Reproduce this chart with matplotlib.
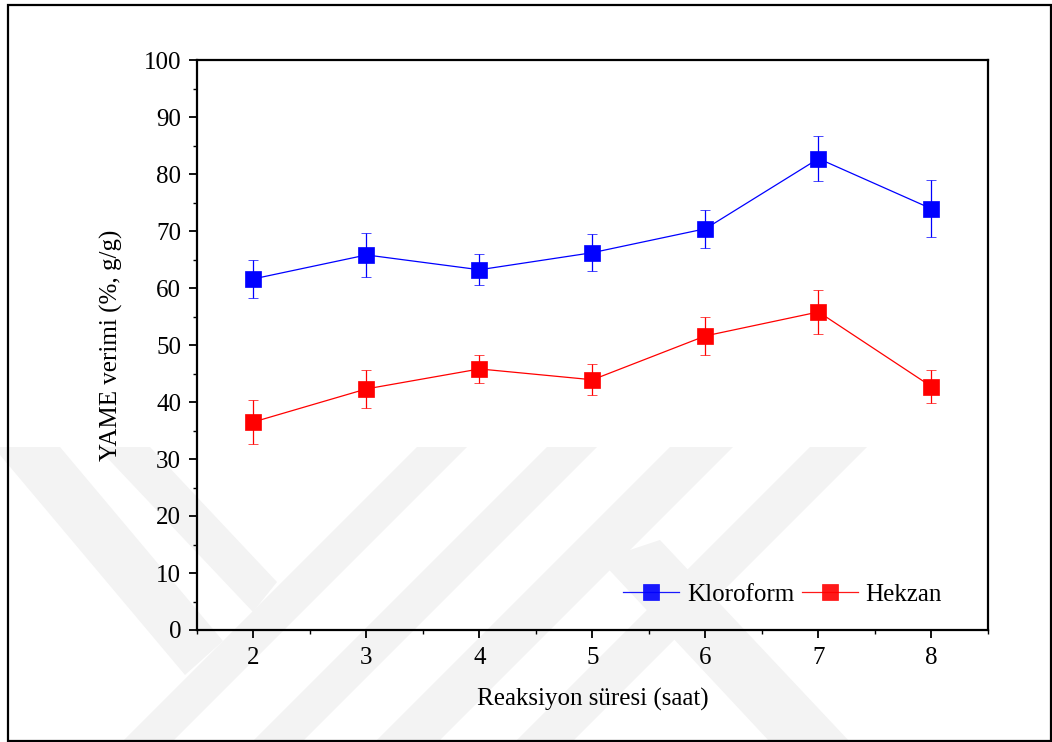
import numpy as np
import matplotlib
matplotlib.use("Agg")
import matplotlib.pyplot as plt
from matplotlib import font_manager
from matplotlib.lines import Line2D
from matplotlib.patches import Polygon, Rectangle
from matplotlib.ticker import MultipleLocator

# find a Times-like serif file and register it
serif_name = "DejaVu Serif"
for path in font_manager.findSystemFonts():
    name = path.split("/")[-1]
    if name.startswith("LiberationSerif-Regular") or name.startswith("Times"):
        font_manager.fontManager.addfont(path)
        serif_name = font_manager.FontProperties(fname=path).get_name()
        break
plt.rcParams["font.family"] = [serif_name, "DejaVu Serif"]

# ========================================
# data
# ========================================
saat = [2, 3, 4, 5, 6, 7, 8]
kloroform = [61.6, 65.8, 63.2, 66.2, 70.4, 82.7, 73.9]
kloroform_err = [3.3, 3.8, 2.7, 3.3, 3.3, 3.9, 5.0]
hekzan = [36.5, 42.3, 45.8, 43.9, 51.6, 55.8, 42.7]
hekzan_err = [3.9, 3.4, 2.5, 2.75, 3.3, 3.9, 2.85]

W, H = 1052, 742
fs = 18
fig = plt.figure(figsize=(W / 100, H / 100), dpi=100)
fig.patch.set_facecolor("white")


def px(pts):
    # pixel coords (y down) -> figure fraction
    return [(x / W, 1 - y / H) for x, y in pts]


# faint watermark in the background
bands = [
    [(417, 447), (467, 447), (172, 742), (122, 742)],
    [(547, 447), (597, 447), (302, 742), (252, 742)],
    [(670, 447), (733, 447), (438, 742), (375, 742)],
    [(810, 447), (867, 447), (572, 742), (515, 742)],
    [(0, 447), (60, 447), (223, 641), (185, 675), (0, 455)],
    [(97, 447), (150, 447), (277, 582), (253, 612)],
    [(600, 560), (660, 540), (850, 742), (770, 742)],
]
for b in bands:
    fig.patches.append(Polygon(px(b), closed=True, transform=fig.transFigure,
                               facecolor="#f3f3f3", edgecolor="none", zorder=-5))

# outer frame
fig.patches.append(Rectangle((8 / W, 1 - 741 / H), (1051 - 8) / W, (741 - 5) / H,
                             transform=fig.transFigure, fill=False,
                             edgecolor="black", linewidth=1.6, zorder=5))

ax = fig.add_axes([197 / W, 1 - 630 / H, 791 / W, 570 / H])
ax.set_facecolor("none")

style = dict(marker="s", markersize=11.3, markeredgewidth=0.5, linewidth=0.9,
             elinewidth=0.9, capsize=3.6, capthick=0.9)
ax.errorbar(saat, kloroform, yerr=kloroform_err, color="#0000ff", **style)
ax.errorbar(saat, hekzan, yerr=hekzan_err, color="#ff0000", **style)

ax.set_xlim(1.5, 8.5)
ax.set_ylim(0, 100)
ax.set_xticks(saat)
ax.set_yticks(np.arange(0, 101, 10))
ax.xaxis.set_minor_locator(MultipleLocator(0.5))
ax.yaxis.set_minor_locator(MultipleLocator(5))
ax.tick_params(axis="both", which="major", direction="out", length=6, width=1.3,
               labelsize=fs, top=False, right=False)
ax.tick_params(axis="x", which="major", pad=6.2)
ax.tick_params(axis="y", which="major", pad=5.5)
ax.tick_params(axis="both", which="minor", direction="out", length=3, width=1.0,
               top=False, right=False)
for s in ax.spines.values():
    s.set_linewidth(1.6)

ax.set_xlabel("Reaksiyon süresi (saat)", fontsize=fs, labelpad=13.5)
ax.set_ylabel("YAME verimi (%, g/g)", fontsize=fs, labelpad=14.5)

handles = [
    Line2D([], [], color="#0000ff", alpha=0.9, marker="s", markersize=11.3,
           markeredgewidth=0.5, linewidth=0.9),
    Line2D([], [], color="#ff0000", alpha=0.9, marker="s", markersize=11.3,
           markeredgewidth=0.5, linewidth=0.9),
]
ax.legend(handles, ["Kloroform", "Hekzan"], loc="lower right",
          bbox_to_anchor=(0.97, 0.003), frameon=False, ncol=2,
          fontsize=fs, handlelength=2.25, handletextpad=0.3, columnspacing=0.3)

fig.savefig("out.png", dpi=100)
